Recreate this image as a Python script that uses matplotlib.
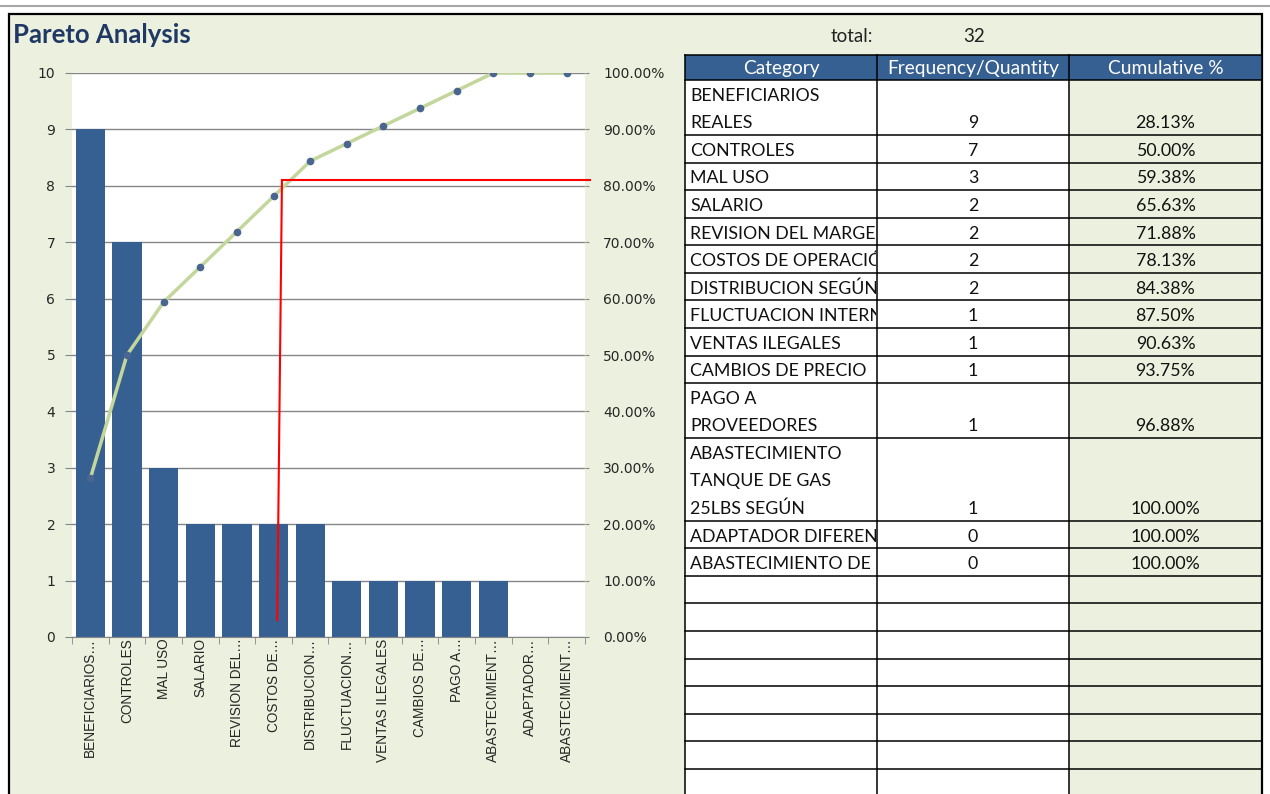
import numpy as np
import matplotlib
matplotlib.use('Agg')
import matplotlib.pyplot as plt
from matplotlib.patches import Rectangle
from matplotlib.ticker import FuncFormatter


W, H = 1270, 794

# chart data
x_labels = ['BENEFICIARIOS…', 'CONTROLES', 'MAL USO', 'SALARIO', 'REVISION DEL…',
            'COSTOS DE…', 'DISTRIBUCION…', 'FLUCTUACION…', 'VENTAS ILEGALES',
            'CAMBIOS DE…', 'PAGO A…', 'ABASTECIMIENT…', 'ADAPTADOR…', 'ABASTECIMIENT…']
table_labels = [['BENEFICIARIOS', 'REALES'], ['CONTROLES'], ['MAL USO'], ['SALARIO'],
                ['REVISION DEL MARGEN'], ['COSTOS DE OPERACIÓN'], ['DISTRIBUCION SEGÚN EL'],
                ['FLUCTUACION INTERNA'], ['VENTAS ILEGALES'], ['CAMBIOS DE PRECIO'],
                ['PAGO A', 'PROVEEDORES'], ['ABASTECIMIENTO', 'TANQUE DE GAS', '25LBS SEGÚN'],
                ['ADAPTADOR DIFERENTE'], ['ABASTECIMIENTO DE LA']]
frequency = np.array([9, 7, 3, 2, 2, 2, 2, 1, 1, 1, 1, 1, 0, 0])
cumulative = np.cumsum(frequency) / frequency.sum() * 100

# hand-drawn red marker lines (category index, percent)
red_h = ([5.23, 13.63], [81.0, 81.0])
red_v = ([5.23, 5.10], [81.0, 3.0])

BLUE = '#376092'
PANEL = '#EBF1DE'
TABLE_FONT = 'Lato'
TFS = 12.8


def pct(v):
    # excel style half-up rounding
    return f'{np.floor(v * 100 + 0.5) / 100:.2f}%'


fig = plt.figure(figsize=(W / 100, H / 100), dpi=100)
fig.patch.set_facecolor('white')

# background / table drawn in pixel coordinates
bg = fig.add_axes([0, 0, 1, 1])
bg.set_xlim(0, W)
bg.set_ylim(H, 0)
bg.axis('off')
bg.plot([0, W], [6, 6], color='#A6A6A6', lw=1.5)
bg.add_patch(Rectangle((9, 14), 1253, 800, fc=PANEL, ec='black', lw=1.6))
bg.text(13, 35, 'Pareto Analysis', fontsize=18.5, fontweight='bold', color='#1F3864',
        va='center', family=TABLE_FONT)
bg.text(873, 36, 'total:', fontsize=13.5, ha='right', va='center', family=TABLE_FONT, color='#222222')
bg.text(974, 36, str(frequency.sum()), fontsize=13.5, ha='center', va='center',
        family=TABLE_FONT, color='#222222')

cols = [685, 877, 1069, 1262]
top, head_bot, unit = 55, 80, 27.55
bg.add_patch(Rectangle((cols[0], top), cols[3] - cols[0], head_bot - top, fc=BLUE, ec='none'))
bg.add_patch(Rectangle((cols[0], head_bot), cols[2] - cols[0], H, fc='white', ec='none'))
for txt, c0, c1 in zip(['Category', 'Frequency/Quantity', 'Cumulative %'], cols[:-1], cols[1:]):
    bg.text((c0 + c1) / 2, (top + head_bot) / 2 + 1, txt, fontsize=13.8, color='white',
            ha='center', va='center', family=TABLE_FONT)

row_lines = [top, head_bot]
y = head_bot
for lines, freq, cum in zip(table_labels, frequency, cumulative):
    clip = Rectangle((cols[0], y), cols[1] - cols[0] - 1, len(lines) * unit, transform=bg.transData)
    for i, line in enumerate(lines):
        t = bg.text(cols[0] + 5, y + (i + 0.5) * unit + 2, line, fontsize=TFS, va='center',
                    family=TABLE_FONT, color='#111111', clip_on=True)
        t.set_clip_path(clip)
    yb = y + (len(lines) - 0.5) * unit + 2
    bg.text((cols[1] + cols[2]) / 2, yb, str(freq), fontsize=TFS, ha='center', va='center',
            family=TABLE_FONT, color='#111111')
    bg.text((cols[2] + cols[3]) / 2, yb, pct(cum), fontsize=TFS, ha='center', va='center',
            family=TABLE_FONT, color='#111111')
    y += len(lines) * unit
    row_lines.append(y)
while y < H:
    y += unit
    row_lines.append(y)
for yy in row_lines:
    bg.plot([cols[0], cols[3]], [yy, yy], color='black', lw=1.1)
for xx in cols:
    bg.plot([xx, xx], [top, H + 5], color='black', lw=1.1)

# pareto chart
left, right, ptop, pbot = 72, 585, 73, 637
ax = fig.add_axes([left / W, 1 - pbot / H, (right - left) / W, (pbot - ptop) / H])
x = np.arange(len(frequency))
ax.bar(x, frequency, width=0.8, color=BLUE, zorder=2)
ax.set_xlim(-0.5, len(frequency) - 0.5)
ax.set_ylim(0, 10)
ax.set_yticks(range(0, 11))
ax.set_facecolor('white')
ax.yaxis.grid(True, color='#868686', lw=1)
ax.set_axisbelow(True)
for s in ('left', 'top', 'right'):
    ax.spines[s].set_visible(False)
ax.spines['bottom'].set_color('#868686')
ax.tick_params(axis='y', length=5, color='#868686', pad=7, labelsize=10, labelcolor='#262626')
ax.set_xticks(x)
ax.set_xticklabels(x_labels, rotation=90, fontsize=9.8, family='Liberation Sans', color='#262626')
ax.tick_params(axis='x', which='major', length=0, pad=1)
ax.set_xticks(np.arange(-0.5, len(frequency)), minor=True)
ax.tick_params(axis='x', which='minor', length=5, color='#868686')

ax2 = ax.twinx()
ax2.set_ylim(0, 100)
ax2.set_yticks(range(0, 101, 10))
ax2.yaxis.set_major_formatter(FuncFormatter(lambda v, p: f'{v:.2f}%'))
ax2.tick_params(axis='y', length=3, color='#868686', pad=10, labelsize=10, labelcolor='#262626')
for s in ax2.spines.values():
    s.set_visible(False)
ax2.plot(x, cumulative, color='#C3D69B', lw=2.5, marker='o', ms=4.5,
         mfc='#4A6690', mec='#4A6690', zorder=3)
ax2.plot(*red_h, color='red', lw=1.5, clip_on=False, zorder=4)
ax2.plot(*red_v, color='red', lw=1.5, clip_on=False, zorder=4)
ax.set_zorder(1)
ax2.set_zorder(2)
ax2.patch.set_visible(False)

fig.savefig('out.png', dpi=100)
